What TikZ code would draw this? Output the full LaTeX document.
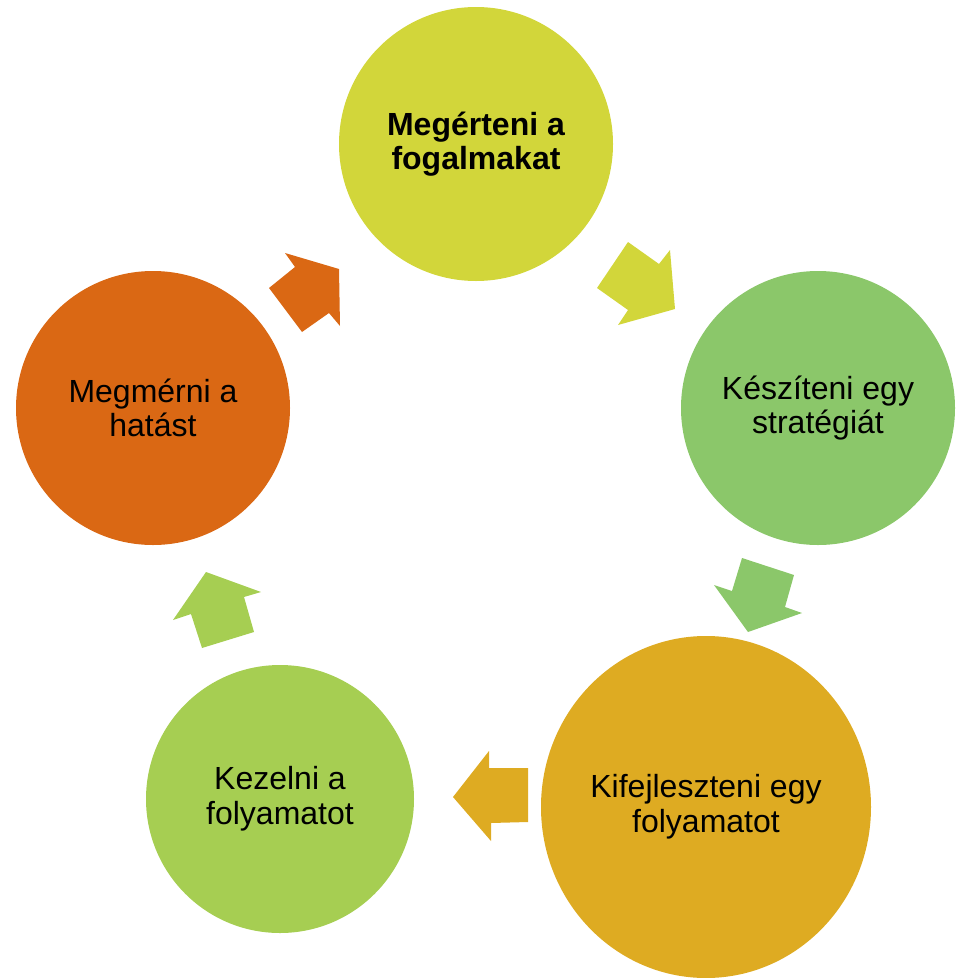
\documentclass[tikz,border=0pt]{standalone}
\usepackage{fontspec}
\setmainfont{Liberation Sans}
\usetikzlibrary{shapes.geometric}

\definecolor{lemon}{RGB}{210,214,58}
\definecolor{leaf}{RGB}{139,199,106}
\definecolor{amber}{RGB}{222,171,34}
\definecolor{lime}{RGB}{166,206,82}
\definecolor{rust}{RGB}{218,104,20}

\tikzset{
  phase/.style={circle, inner sep=0pt, align=center, text=black,
    font=\fontsize{24}{26}\selectfont},
}

\begin{document}
\begin{tikzpicture}[x=0.75pt, y=-0.75pt]
    \useasboundingbox (0,0) rectangle (957,978);
    % Draw the five phases
    \node[phase, fill=lemon, minimum size=205.5pt, font=\fontsize{24}{26}\selectfont\bfseries]
        (concepts) at (476,144) {Meg\'erteni a\\fogalmakat};
    \node[phase, fill=leaf, minimum size=205.5pt] (strategy) at (818,408) {K\'esz\'iteni egy\\strat\'egi\'at};
    \node[phase, ellipse, fill=amber, minimum width=247.5pt, minimum height=256.5pt]
        (develop) at (706,807) {Kifejleszteni egy\\folyamatot};
    \node[phase, fill=lime, minimum size=201pt] (manage) at (280,799) {Kezelni a\\folyamatot};
    \node[phase, fill=rust, minimum size=205.5pt] (measure) at (153,408) {Megm\'erni a\\hat\'ast};
    % Block arrows between the phases
    \fill[lemon] (628,242) -- (659,264) -- (670,250) -- (675,309) -- (618,325) -- (628,310) -- (597,288) -- cycle;
    \fill[leaf] (742,558) -- (794,575) -- (785,607) -- (802,613) -- (748,632) -- (714,585) -- (732,591) -- cycle;
    \fill[amber] (528,768) -- (528,822) -- (491,823) -- (491,841) -- (453,797) -- (489,751) -- (489,768) -- cycle;
    \fill[lime] (206,572) -- (261,592) -- (244,597) -- (254,632) -- (202,648) -- (191,614) -- (173,620) -- cycle;
    \fill[rust] (285,253) -- (339,269) -- (340,326) -- (329,313) -- (302,332) -- (269,288) -- (295,267) -- cycle;
\end{tikzpicture}
\end{document}
